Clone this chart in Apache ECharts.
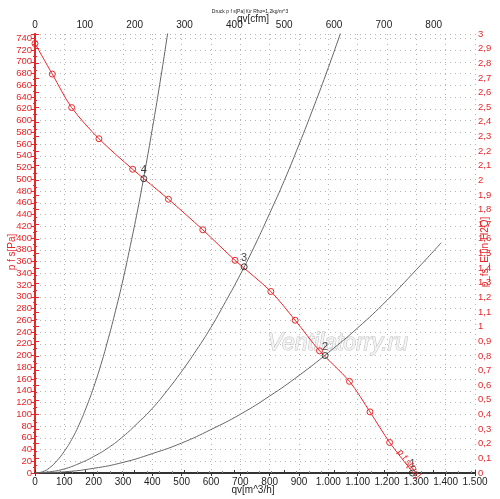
<!DOCTYPE html>
<html>
<head>
<meta charset="utf-8">
<script src="https://cdn.jsdelivr.net/npm/echarts@6/dist/echarts.min.js"></script>
<style>
  html, body {
    margin: 0;
    padding: 0;
    background: #fff;
  }
  #container {
    width: 500px;
    height: 499px;
  }
</style>
</head>
<body>
<div id="container"></div>
<script type="text/javascript">
// fan curve p_fs over qv
var fanFlow = [0, 59, 125, 218, 333, 455, 572, 682, 804, 887, 970, 1072, 1142, 1209, 1290];
var fanPress = [731, 679, 622, 569, 517, 466, 414, 362, 309, 260, 208, 156, 104, 52, 0];

// system curves (grey)
var sysAFlow = [0, 25, 50, 75, 100, 125, 150, 175, 200, 225, 250, 275, 300, 325, 350, 375, 400, 425, 450, 470];
var sysAPress = [0, 2, 9, 21, 37, 57, 82, 112, 146, 185, 229, 277, 329, 387, 448, 515, 586, 661, 741, 808];
var sysBFlow = [0, 50, 100, 150, 200, 250, 300, 350, 400, 450, 500, 550, 600, 650, 700, 750, 800, 850, 900, 950, 1000, 1050];
var sysBPress = [0, 2, 7, 16, 28, 43, 62, 85, 110, 140, 173, 209, 248, 292, 338, 388, 442, 498, 559, 623, 690, 761];
var sysCFlow = [0, 100, 200, 300, 400, 500, 600, 700, 800, 900, 1000, 1100, 1200, 1300, 1385];
var sysCPress = [0, 2, 8, 18, 33, 51, 74, 100, 131, 166, 205, 247, 294, 346, 392];

// operating points
var opFlow = [371, 713, 989, 1287];
var opPress = [501, 351, 200, 0];
var opNames = ['4', '3', '2', '1'];

var RED = '#e8262a';
var FONT = 'Liberation Sans';

function pairs(xs, ys) {
    return xs.map(function (x, i) { return [x, ys[i]]; });
}

var fanData = pairs(fanFlow, fanPress);
fanData[fanData.length - 1] = { value: fanData[fanData.length - 1], symbol: 'none' };

var opData = opFlow.map(function (x, i) {
    return { value: [x, opPress[i]], name: opNames[i] };
});

function sysSeries(xs, ys) {
    return {
        type: 'line',
        data: pairs(xs, ys),
        smooth: true,
        showSymbol: false,
        lineStyle: { color: '#666', width: 1 },
        z: 3,
        silent: true
    };
}

// axis names are placed by hand so they sit where the original has them
function nameText(text, x, y, color, rot) {
    return {
        type: 'text',
        x: x,
        y: y,
        rotation: rot || 0,
        z: 10,
        style: {
            text: text,
            font: '10px "Liberation Sans"',
            fill: color,
            align: 'center',
            verticalAlign: 'middle'
        }
    };
}

var dom = document.getElementById('container');
var myChart = echarts.init(dom);
var option = {
    animation: false,
    textStyle: { fontFamily: FONT },
    title: {
        text: 'Druck p f s[Pa] für Rho=1,2kg/m^3',
        left: 'center',
        top: 4,
        textStyle: { fontSize: 5, fontWeight: 'normal', color: '#222', fontFamily: FONT }
    },
    graphic: [{
        type: 'text',
        left: 267,
        top: 332,
        z: 1,
        style: {
            text: 'Ventilatorry.ru',
            font: 'italic 23px "Liberation Sans"',
            fill: '#f3f3f3',
            stroke: '#bdbdbd',
            lineWidth: 1
        }
    }, {
        // curve name written along the fan curve
        type: 'text',
        x: 403,
        y: 448,
        rotation: -54 * Math.PI / 180,
        z: 10,
        style: {
            text: 'p f s[Pa]',
            font: '9px "Liberation Sans"',
            fill: RED
        }
    },
        nameText('qv[cfm]', 253, 19, '#222'),
        nameText('qv[m^3/h]', 253, 490, '#222'),
        nameText('p f s[Pa]', 12, 252, RED, Math.PI / 2),
        nameText('p_fs_E [in H2O]', 485, 252, RED, Math.PI / 2)
    ],
    grid: { left: 35, right: 25, top: 34, bottom: 26, containLabel: false, outerBoundsMode: 'none' },
    xAxis: [{
        type: 'value',
        position: 'bottom',
        min: 0,
        max: 1500,
        interval: 100,
        axisLine: { lineStyle: { color: '#333', width: 2 } },
        axisTick: { show: true, length: 3, lineStyle: { color: '#333' } },
        axisLabel: {
            fontSize: 10,
            color: '#222',
            margin: 4,
            formatter: function (v) {
                return String(v).replace(/\B(?=(\d{3})+(?!\d))/g, '.');
            }
        },
        splitLine: { show: true, lineStyle: { color: '#b4b4b4', type: [1, 4], width: 1 } }
    }, {
        type: 'value',
        position: 'top',
        min: 0,
        max: 1500 / 1.699,
        interval: 100,
        axisLine: { lineStyle: { color: '#333', width: 2 } },
        axisTick: { show: true, length: 3, lineStyle: { color: '#333' } },
        minorTick: { show: true, splitNumber: 4, length: 2, lineStyle: { color: '#888' } },
        axisLabel: {
            fontSize: 10,
            color: '#222',
            margin: 4,
            formatter: function (v) { return v % 100 === 0 ? String(v) : ''; }
        },
        splitLine: { show: false }
    }],
    yAxis: [{
        type: 'value',
        position: 'left',
        min: 0,
        max: 3 * 249.09,
        interval: 20,
        axisLine: { lineStyle: { color: RED, width: 2 } },
        axisTick: { show: true, length: 4, lineStyle: { color: RED } },
        minorTick: { show: true, splitNumber: 2, length: 2, lineStyle: { color: RED } },
        axisLabel: {
            fontSize: 9.5,
            color: RED,
            margin: 3,
            formatter: function (v) { return v % 20 === 0 ? String(v) : ''; }
        },
        splitLine: { show: true, lineStyle: { color: '#b4b4b4', type: [1, 4], width: 1 } }
    }, {
        type: 'value',
        position: 'right',
        min: 0,
        max: 3,
        interval: 0.1,
        axisLine: { lineStyle: { color: RED, width: 2 } },
        axisTick: { show: true, length: 4, lineStyle: { color: RED } },
        minorTick: { show: true, splitNumber: 2, length: 2, lineStyle: { color: RED } },
        axisLabel: {
            fontSize: 9.5,
            color: RED,
            margin: 3,
            formatter: function (v) {
                return String(Math.round(v * 10) / 10).replace('.', ',');
            }
        },
        splitLine: { show: false }
    }],
    series: [
        sysSeries(sysAFlow, sysAPress),
        sysSeries(sysBFlow, sysBPress),
        sysSeries(sysCFlow, sysCPress),
        {
            type: 'line',
            data: fanData,
            smooth: 0.3,
            symbol: 'circle',
            symbolSize: 6,
            showAllSymbol: true,
            lineStyle: { color: RED, width: 1 },
            itemStyle: { color: 'rgba(255,255,255,0)', borderColor: RED, borderWidth: 1 },
            z: 4,
            silent: true
        },
        {
            type: 'scatter',
            data: opData,
            symbol: 'circle',
            symbolSize: 6,
            clip: false,
            itemStyle: { color: 'rgba(255,255,255,0)', borderColor: '#111', borderWidth: 1 },
            label: {
                show: true,
                position: 'top',
                distance: 0,
                formatter: '{b}',
                color: '#111',
                fontSize: 11,
                fontFamily: FONT
            },
            z: 5,
            silent: true
        }
    ]
};
if (option && typeof option === 'object') {
    myChart.setOption(option, true);
}
</script>
</body>
</html>
